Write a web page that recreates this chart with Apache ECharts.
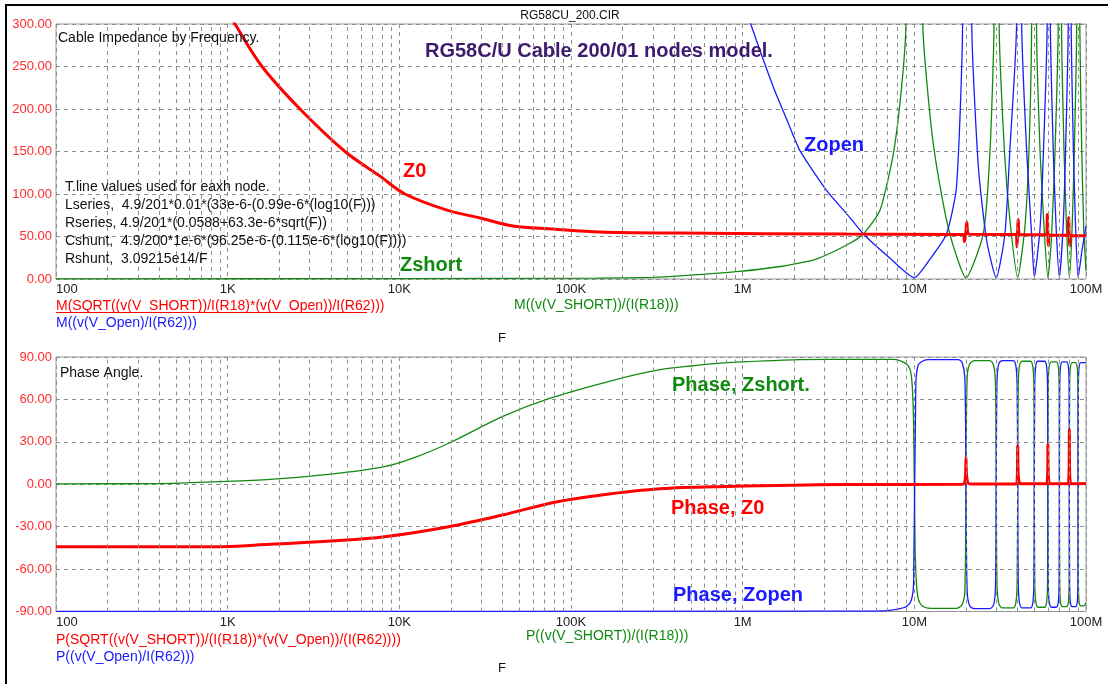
<!DOCTYPE html>
<html><head><meta charset="utf-8">
<script src="https://cdn.jsdelivr.net/npm/echarts@6/dist/echarts.min.js"></script>
<style>html,body{margin:0;padding:0;background:#fff}#c{width:1108px;height:684px}</style>
</head><body><div id="c"></div>
<script>
// ---------- DATA (frequency in Hz, value) ----------
const xTickLabels = ['100', '1K', '10K', '100K', '1M', '10M', '100M'];
const decades = [100, 1e3, 1e4, 1e5, 1e6, 1e7];
const minorMultipliers = [2, 3, 4, 5, 6, 7, 8, 9];

// Top chart: magnitudes (ohms)
const z0Mag = [
  [100, 990], [300, 575], [600, 405], [900, 330], [1103, 300], [1585, 250], [2638, 200], [4826, 150],
  [7715, 121], [10790, 100], [18950, 81], [29500, 71.8], [45900, 62.4], [78500, 58.8], [147500, 55.3],
  [431500, 54.1], [4.05e6, 52.8], [1.93e7, 52.5],
  [1.96e7, 44], [1.99e7, 52], [2.02e7, 67], [2.05e7, 54], [2.1e7, 52.5],
  [3.92e7, 52.3], [3.96e7, 38], [3.99e7, 52], [4.03e7, 70], [4.07e7, 53], [4.15e7, 52],
  [5.9e7, 52], [5.95e7, 76], [6.0e7, 52], [6.04e7, 39], [6.1e7, 51.5],
  [7.85e7, 51.5], [7.92e7, 72.5], [7.98e7, 51], [8.03e7, 39], [8.1e7, 51], [1.0e8, 51]
];
const zShortMag = [
  [100, 0.2], [1e4, 0.4], [1.41e5, 1], [3.0e5, 2], [4.5e5, 4], [9.65e5, 9], [1.7e6, 15], [2.16e6, 19],
  [2.66e6, 23], [4.04e6, 40], [5.05e6, 53], [6.3e6, 80.5], [7.54e6, 147], [8.43e6, 226], [8.93e6, 300],
  [1.0e7, 3000], [1.12e7, 300], [1.23e7, 195], [1.35e7, 132], [1.61e7, 53], [2.0e7, 1.5],
  [2.52e7, 53], [2.76e7, 151], [2.91e7, 300], [3.0e7, 3000], [3.12e7, 300], [3.35e7, 150], [3.6e7, 70], [4.0e7, 1.5],
  [4.4e7, 60], [4.65e7, 150], [4.82e7, 300], [5.0e7, 3000], [5.15e7, 300], [5.4e7, 150], [5.7e7, 60], [6.0e7, 1.5],
  [6.3e7, 50], [6.6e7, 150], [6.89e7, 300], [7.0e7, 3000], [7.2e7, 300], [7.45e7, 150], [7.7e7, 60], [8.0e7, 1.5],
  [8.3e7, 60], [8.55e7, 150], [8.83e7, 300], [9.0e7, 3000], [9.2e7, 300], [9.45e7, 150], [9.7e7, 60], [1.0e8, 10]
];
const zOpenMag = [
  [1e5, 3000], [5e5, 640], [1.0e6, 330], [1.114e6, 300], [1.508e6, 226], [1.804e6, 188], [2.157e6, 151],
  [3.086e6, 104], [4.03e6, 77], [5.05e6, 53], [7.03e6, 26.5], [1.0e7, 1.5],
  [1.24e7, 24], [1.54e7, 53], [1.76e7, 108], [1.91e7, 300], [2.0e7, 3000], [2.16e7, 300], [2.36e7, 132], [2.64e7, 45], [3.0e7, 1.5],
  [3.37e7, 53], [3.6e7, 151], [3.94e7, 300], [4.0e7, 3000], [4.22e7, 300], [4.51e7, 151], [4.82e7, 53], [5.0e7, 2],
  [5.4e7, 60], [5.65e7, 150], [5.94e7, 300], [6.0e7, 3000], [6.2e7, 300], [6.45e7, 150], [6.7e7, 60], [7.0e7, 2],
  [7.35e7, 60], [7.6e7, 150], [7.88e7, 300], [8.0e7, 3000], [8.2e7, 300], [8.45e7, 150], [8.7e7, 60], [9.0e7, 2],
  [9.5e7, 35], [1.0e8, 62]
];

// Bottom chart: phases (degrees)
const z0Phase = [
  [100, -44.2], [822, -44.2], [1770, -42.5], [4000, -40.1], [8200, -37.1], [19400, -30], [39800, -21.8],
  [81800, -12.5], [147000, -7.7], [330000, -3.2], [807000, -1.6], [3.86e6, -0.2], [1.9e7, 0],
  [1.96e7, 0.5], [1.99e7, 8], [2.0e7, 19], [2.01e7, 8], [2.05e7, 1], [2.12e7, 0.2],
  [3.9e7, 0.2], [3.96e7, 1], [3.99e7, 12], [4.0e7, 27], [4.02e7, 10], [4.08e7, 1.5], [4.2e7, 0.3],
  [5.88e7, 0.3], [5.95e7, 2], [5.99e7, 12], [6.0e7, 28], [6.02e7, 10], [6.08e7, 1.5], [6.2e7, 0.3],
  [7.85e7, 0.3], [7.92e7, 2], [7.98e7, 14], [8.0e7, 38.5], [8.02e7, 12], [8.08e7, 2], [8.2e7, 0.3],
  [1.0e8, 0.5]
];
const zShortPhase = [
  [100, 0.3], [420, 0.5], [863, 1.8], [1770, 3.5], [4000, 7.1], [8200, 12.4], [12000, 18.4], [19400, 29],
  [39800, 47.8], [74300, 60.5], [176000, 73.5], [330000, 81], [515000, 83.8], [807000, 86], [1.96e6, 88],
  [3.09e6, 88.3], [7.54e6, 88.3], [9.0e6, 85], [9.6e6, 77], [9.9e6, 44], [1.01e7, -44], [1.04e7, -77],
  [1.1e7, -85.5], [1.25e7, -87.8], [1.75e7, -87.8], [1.9e7, -85], [1.97e7, -75], [2.0e7, 0], [2.03e7, 75],
  [2.1e7, 85], [2.25e7, 87.5], [2.75e7, 87.5], [2.9e7, 84], [2.97e7, 70], [3.0e7, 0], [3.03e7, -70],
  [3.1e7, -84], [3.25e7, -87.5], [3.75e7, -87.5], [3.9e7, -84], [3.97e7, -70], [4.0e7, 0], [4.03e7, 70],
  [4.1e7, 84], [4.25e7, 87], [4.75e7, 87], [4.9e7, 83], [4.97e7, 70], [5.0e7, 0], [5.03e7, -70],
  [5.1e7, -83], [5.25e7, -87], [5.75e7, -87], [5.9e7, -83], [5.97e7, -70], [6.0e7, 0], [6.03e7, 70],
  [6.1e7, 83], [6.3e7, 86.5], [6.7e7, 86.5], [6.9e7, 83], [6.97e7, 70], [7.0e7, 0], [7.03e7, -70],
  [7.1e7, -83], [7.3e7, -86.5], [7.7e7, -86.5], [7.9e7, -83], [7.97e7, -70], [8.0e7, 0], [8.03e7, 70],
  [8.1e7, 82], [8.3e7, 86], [8.7e7, 86], [8.9e7, 82], [8.97e7, 70], [9.0e7, 0], [9.03e7, -70],
  [9.1e7, -82], [9.3e7, -86], [9.7e7, -86], [1.0e8, -84]
];
const zOpenPhase = [
  [100, -89.9], [3e6, -89.8], [6.6e6, -89.5], [8.0e6, -88.3], [9.0e6, -86.5], [9.6e6, -82], [9.9e6, -70],
  [1.02e7, 70], [1.05e7, 84], [1.1e7, 86.6], [1.2e7, 88.2], [1.8e7, 88.2], [1.9e7, 86], [1.97e7, 75],
  [2.0e7, 0], [2.03e7, -75], [2.1e7, -86], [2.25e7, -88], [2.75e7, -88], [2.9e7, -85], [2.97e7, -72],
  [3.0e7, 0], [3.03e7, 72], [3.1e7, 85], [3.25e7, 87.5], [3.75e7, 87.5], [3.9e7, 84], [3.97e7, 70],
  [4.0e7, 0], [4.03e7, -70], [4.1e7, -84], [4.25e7, -87.5], [4.75e7, -87.5], [4.9e7, -84], [4.97e7, -70],
  [5.0e7, 0], [5.03e7, 70], [5.1e7, 84], [5.25e7, 87], [5.75e7, 87], [5.9e7, 83], [5.97e7, 70],
  [6.0e7, 0], [6.03e7, -70], [6.1e7, -83], [6.3e7, -87], [6.7e7, -87], [6.9e7, -83], [6.97e7, -70],
  [7.0e7, 0], [7.03e7, 70], [7.1e7, 83], [7.3e7, 86.5], [7.7e7, 86.5], [7.9e7, 83], [7.97e7, 70],
  [8.0e7, 0], [8.03e7, -70], [8.1e7, -83], [8.3e7, -86.5], [8.7e7, -86.5], [8.9e7, -83], [8.97e7, -70],
  [9.0e7, 0], [9.03e7, 70], [9.1e7, 82], [9.3e7, 86], [9.7e7, 86], [1.0e8, 86]
];

// ---------- CHART ----------
const FONT = '"Liberation Sans", Arial, sans-serif';
const RED = '#ff0000', BLUE = '#1a1aff', GREEN = '#0f8a0f', GRIDC = '#8e8e8e';
const minorTicks = [];
decades.forEach(d => minorMultipliers.forEach(m => minorTicks.push(d * m)));

function xAxisCfg(idx) {
  return {
    type: 'log', logBase: 10, gridIndex: idx, min: 100, max: 1e8, splitNumber: 6,
    axisLine: { show: false }, axisTick: { show: false },
    axisLabel: {
      color: '#222', fontFamily: FONT, fontSize: 13, margin: 4, alignMinLabel: 'left',
      showMinLabel: true, showMaxLabel: true,
      formatter: v => xTickLabels[Math.round(Math.log10(v)) - 2]
    },
    splitLine: { show: true, lineStyle: { color: GRIDC, type: [4, 4], width: 1 } }
  };
}
function yAxisCfg(idx, min, max, interval) {
  return {
    type: 'value', gridIndex: idx, min, max, interval,
    axisLine: { show: false }, axisTick: { show: false },
    axisLabel: { color: '#ff2a2a', fontFamily: FONT, fontSize: 13, margin: 4, formatter: v => v.toFixed(2) },
    splitLine: { show: true, lineStyle: { color: GRIDC, type: [4, 4], width: 1 } }
  };
}
function gridLines(idx) {
  return {
    type: 'line', xAxisIndex: idx, yAxisIndex: idx, data: [], z: 0, silent: true,
    markLine: {
      silent: true, symbol: ['none', 'none'], animation: false,
      label: { show: false },
      lineStyle: { color: GRIDC, type: [4, 4], width: 1 },
      emphasis: { disabled: true },
      data: minorTicks.map(v => ({ xAxis: v }))
    }
  };
}
function lineSeries(data, idx, color, width, z, smooth) {
  return {
    type: 'line', xAxisIndex: idx, yAxisIndex: idx, data, showSymbol: false, symbol: 'none',
    clip: true, z, animation: false, silent: true, smooth: smooth || false,
    lineStyle: { color, width }, itemStyle: { color }
  };
}
function txt(text, x, y, color, size, bold, align) {
  return {
    type: 'text', x, y, silent: true, z: 100,
    style: {
      text, fill: color, align: align || 'left', verticalAlign: 'middle',
      font: (bold ? 'bold ' : '') + size + 'px ' + FONT
    }
  };
}

const chart = echarts.init(document.getElementById('c'));
chart.setOption({
  animation: false,
  backgroundColor: '#ffffff',
  grid: [
    { left: 56, top: 24, width: 1030, height: 255, show: true, borderColor: '#9a9a9a', borderWidth: 1, containLabel: false },
    { left: 56, top: 357, width: 1030, height: 254.5, show: true, borderColor: '#9a9a9a', borderWidth: 1, containLabel: false }
  ],
  xAxis: [xAxisCfg(0), xAxisCfg(1)],
  yAxis: [yAxisCfg(0, 0, 300, 50), yAxisCfg(1, -90, 90, 30)],
  series: [
    gridLines(0), gridLines(1),
    lineSeries(zShortMag, 0, GREEN, 1.3, 2, 0.2),
    lineSeries(zOpenMag, 0, BLUE, 1.3, 3, 0.2),
    lineSeries(z0Mag, 0, RED, 3, 4, 0.35),
    lineSeries(zShortPhase, 1, GREEN, 1.3, 2, 0.3),
    lineSeries(zOpenPhase, 1, BLUE, 1.3, 3, 0.3),
    lineSeries(z0Phase, 1, RED, 3, 4, 0.35)
  ],
  graphic: [
    { type: 'rect', silent: true, z: 100, shape: { x: 6, y: 5, width: 1300, height: 900 },
      style: { fill: 'none', stroke: '#000', lineWidth: 2 } },
    txt('RG58CU_200.CIR', 570, 16, '#111', 12, false, 'center'),
    txt('Cable Impedance by Frequency.', 58, 38, '#111', 14),
    txt('RG58C/U Cable 200/01 nodes model.', 425, 51, '#3d1a6e', 20, true),
    txt('Zopen', 804, 145, BLUE, 20, true),
    txt('Z0', 403, 171, RED, 20, true),
    txt('Zshort', 400, 265, GREEN, 20, true),
    txt('T.line values used for eaxh node.', 65, 187, '#111', 14),
    txt('Lseries,  4.9/201*0.01*(33e-6-(0.99e-6*(log10(F)))', 65, 205, '#111', 14),
    txt('Rseries, 4.9/201*(0.0588+63.3e-6*sqrt(F))', 65, 223, '#111', 14),
    txt('Cshunt,  4.9/200*1e-6*(96.25e-6-(0.115e-6*(log10(F))))', 65, 241, '#111', 14),
    txt('Rshunt,  3.09215e14/F', 65, 259, '#111', 14),
    txt('M(SQRT((v(V_SHORT))/I(R18)*(v(V_Open))/I(R62)))', 56, 306, RED, 14),
    { type: 'line', silent: true, z: 100, shape: { x1: 56, y1: 312.5, x2: 367, y2: 312.5 }, style: { stroke: RED, lineWidth: 1 } },
    txt('M((v(V_Open)/I(R62)))', 56, 323, BLUE, 14),
    txt('M((v(V_SHORT))/(I(R18)))', 514, 305, GREEN, 14),
    txt('F', 502, 338, '#111', 13, false, 'center'),
    txt('Phase Angle.', 60, 373, '#111', 14),
    txt('Phase, Zshort.', 672, 385, GREEN, 20, true),
    txt('Phase, Z0', 671, 508, RED, 20, true),
    txt('Phase, Zopen', 673, 595, BLUE, 20, true),
    txt('P(SQRT((v(V_SHORT))/(I(R18))*(v(V_Open))/(I(R62))))', 56, 640, RED, 14),
    txt('P((v(V_Open)/I(R62)))', 56, 657, BLUE, 14),
    txt('P((v(V_SHORT))/(I(R18)))', 526, 636, GREEN, 14),
    txt('F', 502, 668, '#111', 13, false, 'center')
  ]
});
</script></body></html>
